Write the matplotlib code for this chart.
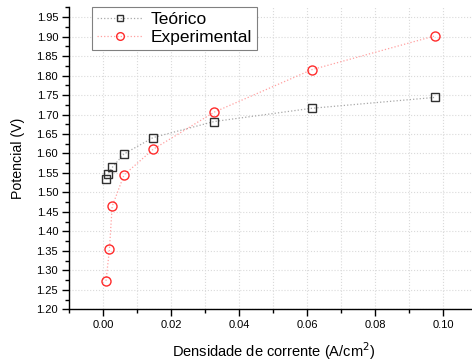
import matplotlib
matplotlib.use("Agg")
import matplotlib.pyplot as plt
from matplotlib.ticker import MultipleLocator, FormatStrFormatter

plt.rcParams['font.family'] = ['Liberation Sans', 'DejaVu Sans']

x_teo = [0.0008, 0.0015, 0.0026, 0.0061, 0.0147, 0.0326, 0.0613, 0.0976]
y_teo = [1.534, 1.548, 1.564, 1.599, 1.641, 1.682, 1.716, 1.744]
x_exp = [0.0008, 0.0018, 0.0026, 0.0061, 0.0147, 0.0326, 0.0613, 0.0976]
y_exp = [1.273, 1.354, 1.464, 1.545, 1.611, 1.706, 1.815, 1.902]

W, H = 472, 363
fig = plt.figure(figsize=(W / 100, H / 100), dpi=100)
left, right, bottom, top = 69.3, 477.3, 309.3, 7.0
ax = fig.add_axes([left / W, (H - bottom) / H, (right - left) / W, (bottom - top) / H])

ax.plot(x_teo, y_teo, linestyle=':', color='#a8a8a8', linewidth=0.9,
        marker='s', markersize=5.5, markerfacecolor='none', markeredgecolor='#303030',
        markeredgewidth=1.0, label='Teórico')
ax.plot(x_exp, y_exp, linestyle=':', color='#ffa0a0', linewidth=0.9,
        marker='o', markersize=6.5, markerfacecolor='none', markeredgecolor='#ff2a2a',
        markeredgewidth=1.0, label='Experimental')

ax.set_xlim(-0.01, 0.11)
ax.set_ylim(1.20, 1.976)
ax.xaxis.set_major_locator(MultipleLocator(0.02))
ax.xaxis.set_minor_locator(MultipleLocator(0.01))
ax.yaxis.set_major_locator(MultipleLocator(0.05))
ax.yaxis.set_minor_locator(MultipleLocator(0.025))
ax.xaxis.set_major_formatter(FormatStrFormatter('%.2f'))
ax.yaxis.set_major_formatter(FormatStrFormatter('%.2f'))

ax.grid(True, which='major', axis='y', linestyle=':', color='#dadada', linewidth=0.8)
ax.grid(True, which='both', axis='x', linestyle=':', color='#dadada', linewidth=0.8)
ax.set_axisbelow(True)

for s in ['top', 'right']:
    ax.spines[s].set_visible(False)
for s in ['left', 'bottom']:
    ax.spines[s].set_linewidth(1.0)

ax.tick_params(which='major', direction='out', length=5, width=1, labelsize=8, pad=3)
ax.tick_params(which='minor', direction='out', length=3, width=1)

ax.set_xlabel('Densidade de corrente (A/cm$^2$)', fontsize=10.5, labelpad=7)
ax.set_ylabel('Potencial (V)', fontsize=10.2, labelpad=8)

leg = ax.legend(loc='upper left', bbox_to_anchor=(0.055, 1.0), fontsize=12.5,
                frameon=True, fancybox=False, edgecolor='#808080', framealpha=1,
                borderpad=0.3, handlelength=2.6, handletextpad=0.5, labelspacing=0.15,
                borderaxespad=0.0, markerscale=0.85)
leg.get_frame().set_linewidth(0.8)

fig.savefig('out.png', dpi=100)
